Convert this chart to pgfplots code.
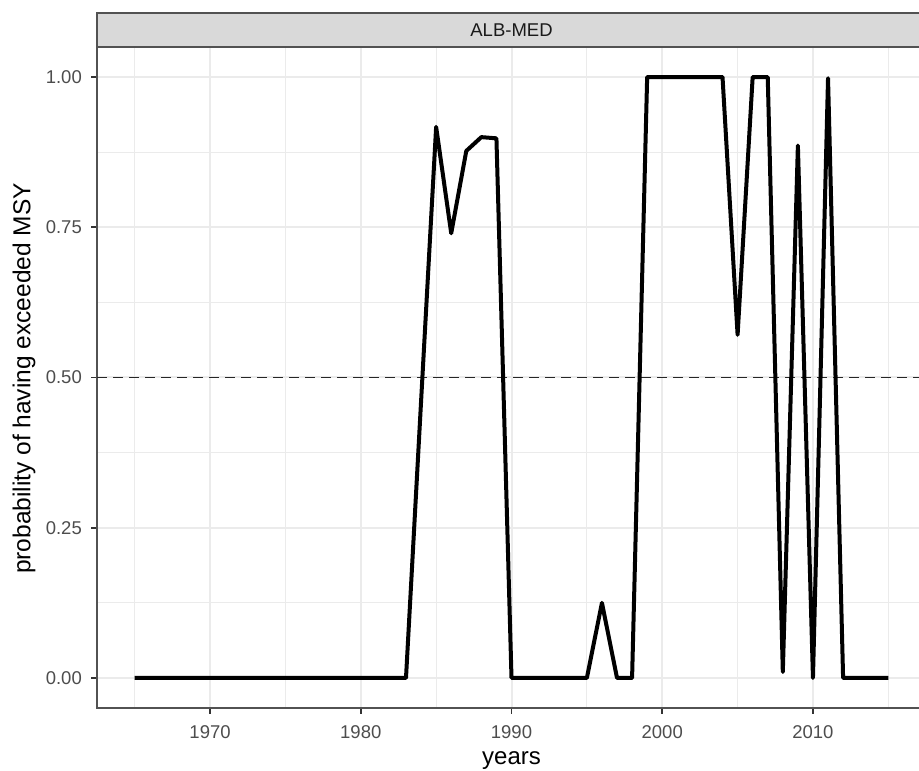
\documentclass[border=0pt]{standalone}
\usepackage{pgfplots}
\pgfplotsset{compat=1.18}
\usepackage{fontspec}
\setmainfont{Liberation Sans}
\definecolor{gridmaj}{HTML}{EBEBEB}
\definecolor{grey20}{HTML}{333333}
\definecolor{grey30}{HTML}{4D4D4D}
\definecolor{grey85}{HTML}{D9D9D9}
\definecolor{grey10}{HTML}{1A1A1A}
\begin{document}
\begin{tikzpicture}
\useasboundingbox (0,0) rectangle (919bp,771bp);
\begin{axis}[
  at={(97bp,63bp)}, anchor=south west,
  scale only axis, width=829bp, height=661bp,
  xmin=1962.5, xmax=2017.5, ymin=-0.05, ymax=1.05,
  xtick={1970,1980,1990,2000,2010},
  minor xtick={1965,1975,1985,1995,2005,2015},
  ytick={0,0.25,0.5,0.75,1},
  minor ytick={0.125,0.375,0.625,0.875},
  yticklabels={0.00,0.25,0.50,0.75,1.00},
  xticklabel style={/pgf/number format/1000 sep={}},
  /pgf/number format/assume math mode=true,
  grid=both,
  major grid style={gridmaj, line width=2bp},
  minor grid style={gridmaj, line width=1bp},
  tick align=outside,
  major tick length=6bp,
  minor tick length=0pt,
  tick style={grey20, line width=1.6bp},
  axis line style={grey20!85!white, line width=1.6bp},
  tick label style={font=\fontsize{18.5bp}{21bp}\selectfont, color=grey30, inner sep=0pt},
  yticklabel style={xshift=-9bp},
  xticklabel style={yshift=-11bp},
  clip=true,
]
\addplot[black!85, line width=1.6bp, dash pattern=on 10bp off 6bp, forget plot] coordinates {(1962.5,0.5) (2017.5,0.5)};
\addplot[black, line width=4bp, line join=round] coordinates {
(1965,0) (1966,0) (1967,0) (1968,0) (1969,0) (1970,0) (1971,0) (1972,0) (1973,0) (1974,0)
(1975,0) (1976,0) (1977,0) (1978,0) (1979,0) (1980,0) (1981,0) (1982,0) (1983,0)
(1984,0.46) (1985,0.917) (1986,0.740) (1987,0.877) (1988,0.900) (1989,0.898)
(1990,0) (1991,0) (1992,0) (1993,0) (1994,0) (1995,0) (1996,0.125) (1997,0) (1998,0)
(1999,1) (2000,1) (2001,1) (2002,1) (2003,1) (2004,1) (2005,0.571) (2006,1) (2007,1)
(2008,0.010) (2009,0.886) (2010,0) (2011,0.998) (2012,0) (2013,0) (2014,0) (2015,0)
};
\end{axis}
\draw[grey20!85!white, line width=1.6bp, fill=grey85] (97bp,724bp) rectangle (930bp,758bp);
\node[color=grey10, font=\fontsize{18.5bp}{21bp}\selectfont] at (511.5bp,741bp) {ALB-MED};
\node[font=\fontsize{24.5bp}{27bp}\selectfont, rotate=90] at (24bp,392.5bp) {probability of having exceeded MSY};
\node[font=\fontsize{24bp}{27bp}\selectfont, anchor=base] at (511.5bp,7bp) {years};
\end{tikzpicture}
\end{document}
